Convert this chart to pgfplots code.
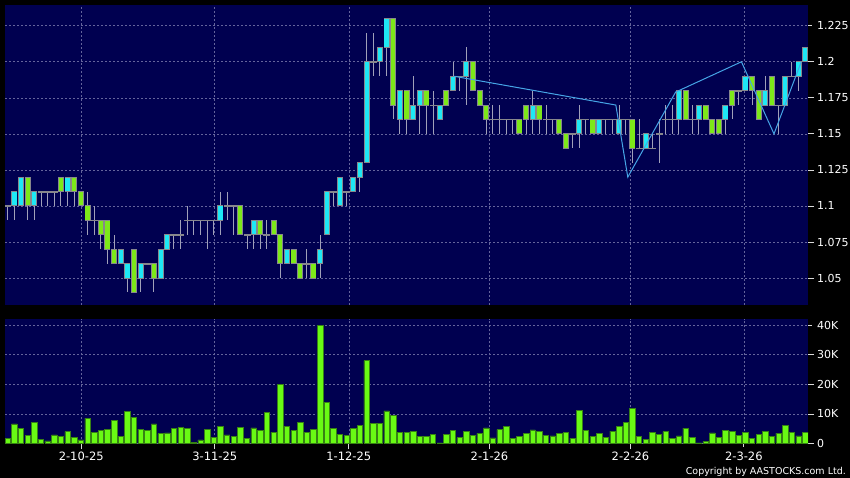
\documentclass[border=0pt]{standalone}
\usepackage{fontspec}
\setmainfont{DejaVu Sans}
\usepackage{pgfplots}
\usepackage{pgfplotstable}
\pgfplotsset{compat=1.18}

\definecolor{navy}{RGB}{0,0,80}
\definecolor{gridc}{RGB}{100,100,155}
\definecolor{wickc}{RGB}{160,160,185}
\definecolor{edgec}{RGB}{135,135,140}
\definecolor{upc}{RGB}{30,232,245}
\definecolor{dnc}{RGB}{125,232,25}
\definecolor{volc}{RGB}{105,250,20}
\definecolor{voledge}{RGB}{55,130,20}
\definecolor{zigc}{RGB}{70,165,230}

% candles: index, open, high, low, close
\pgfplotstableread{
i o h l c
1 1.10 1.11 1.09 1.11
2 1.10 1.12 1.10 1.12
4 1.10 1.11 1.09 1.11
9 1.11 1.12 1.10 1.12
17 1.06 1.07 1.06 1.07
18 1.05 1.06 1.04 1.06
20 1.05 1.06 1.04 1.06
23 1.05 1.07 1.05 1.07
24 1.07 1.08 1.07 1.08
32 1.09 1.11 1.08 1.10
37 1.08 1.09 1.07 1.09
42 1.06 1.07 1.06 1.07
47 1.06 1.08 1.05 1.07
48 1.08 1.11 1.08 1.11
50 1.10 1.12 1.10 1.12
52 1.11 1.12 1.11 1.12
53 1.12 1.13 1.11 1.13
54 1.13 1.22 1.13 1.20
56 1.20 1.21 1.19 1.21
57 1.21 1.23 1.19 1.23
59 1.16 1.18 1.15 1.18
61 1.16 1.19 1.16 1.17
62 1.17 1.18 1.15 1.18
65 1.16 1.17 1.16 1.17
67 1.18 1.20 1.18 1.19
69 1.19 1.21 1.17 1.20
79 1.16 1.18 1.15 1.17
86 1.15 1.17 1.14 1.16
89 1.15 1.16 1.15 1.16
92 1.15 1.17 1.15 1.16
96 1.14 1.15 1.14 1.15
101 1.16 1.18 1.15 1.18
104 1.16 1.17 1.15 1.17
108 1.16 1.17 1.15 1.17
111 1.18 1.19 1.18 1.19
114 1.17 1.19 1.17 1.18
117 1.17 1.19 1.17 1.19
119 1.19 1.20 1.18 1.20
120 1.20 1.21 1.20 1.21
}\up

\pgfplotstableread{
i o h l c
3 1.12 1.12 1.09 1.10
8 1.12 1.12 1.10 1.11
10 1.12 1.12 1.10 1.11
11 1.11 1.11 1.10 1.10
12 1.10 1.11 1.08 1.09
14 1.09 1.09 1.07 1.08
15 1.09 1.09 1.06 1.07
16 1.07 1.08 1.06 1.06
19 1.07 1.07 1.04 1.04
22 1.06 1.06 1.04 1.05
35 1.10 1.10 1.08 1.08
38 1.09 1.09 1.07 1.08
40 1.09 1.09 1.08 1.08
41 1.08 1.08 1.05 1.06
43 1.07 1.07 1.06 1.06
44 1.06 1.06 1.05 1.05
46 1.06 1.06 1.05 1.05
58 1.23 1.23 1.16 1.17
60 1.18 1.18 1.15 1.16
63 1.18 1.18 1.15 1.17
66 1.18 1.18 1.17 1.17
70 1.20 1.20 1.18 1.18
71 1.18 1.18 1.17 1.17
72 1.17 1.17 1.15 1.16
77 1.16 1.16 1.15 1.15
78 1.17 1.17 1.15 1.16
80 1.17 1.17 1.15 1.16
83 1.16 1.16 1.15 1.15
84 1.15 1.15 1.14 1.14
88 1.16 1.16 1.15 1.15
94 1.16 1.16 1.13 1.14
102 1.18 1.18 1.16 1.16
105 1.17 1.17 1.16 1.16
106 1.16 1.16 1.15 1.15
107 1.16 1.16 1.15 1.15
109 1.18 1.18 1.16 1.17
112 1.19 1.19 1.17 1.18
113 1.18 1.18 1.16 1.16
115 1.19 1.19 1.17 1.17
}\down

\pgfplotstableread{
i o h l c
0 1.10 1.10 1.09 1.10
5 1.11 1.11 1.10 1.11
6 1.11 1.11 1.10 1.11
7 1.11 1.11 1.10 1.11
13 1.09 1.10 1.08 1.09
21 1.06 1.06 1.06 1.06
25 1.08 1.08 1.07 1.08
26 1.08 1.09 1.07 1.08
27 1.09 1.10 1.08 1.09
28 1.09 1.09 1.08 1.09
29 1.09 1.09 1.08 1.09
30 1.09 1.09 1.07 1.09
31 1.09 1.09 1.08 1.09
33 1.10 1.11 1.09 1.10
34 1.10 1.10 1.08 1.10
36 1.08 1.08 1.07 1.08
39 1.08 1.09 1.07 1.08
45 1.06 1.07 1.05 1.06
49 1.11 1.11 1.10 1.11
51 1.11 1.11 1.10 1.11
55 1.20 1.22 1.19 1.20
64 1.17 1.18 1.15 1.17
68 1.19 1.19 1.18 1.19
73 1.16 1.17 1.15 1.16
74 1.16 1.17 1.15 1.16
75 1.16 1.16 1.15 1.16
76 1.16 1.16 1.15 1.16
81 1.16 1.17 1.15 1.16
82 1.16 1.16 1.15 1.16
85 1.15 1.15 1.14 1.15
87 1.16 1.16 1.15 1.16
90 1.16 1.16 1.15 1.16
91 1.16 1.16 1.15 1.16
93 1.16 1.16 1.15 1.16
95 1.14 1.16 1.14 1.14
97 1.14 1.15 1.14 1.14
98 1.15 1.16 1.13 1.15
99 1.16 1.17 1.15 1.16
100 1.16 1.17 1.15 1.16
103 1.16 1.17 1.15 1.16
110 1.18 1.18 1.17 1.18
116 1.17 1.17 1.15 1.17
118 1.19 1.20 1.19 1.19
}\doji

% volume in thousands
\pgfplotstableread{
i v
0 1.8
1 6.6
2 5.0
3 2.7
4 7.2
5 1.4
6 0.9
7 2.9
8 2.4
9 4.0
10 2.1
11 1.2
12 8.6
13 3.8
14 4.5
15 4.7
16 7.8
17 2.5
18 10.8
19 8.8
20 4.9
21 4.4
22 6.6
23 3.3
24 3.6
25 5.1
26 5.4
27 5.2
28 0.5
29 1.2
30 4.7
31 2.0
32 5.8
33 2.9
34 2.4
35 5.4
36 1.8
37 5.3
38 4.5
39 10.4
40 3.8
41 20.0
42 5.8
43 4.3
44 7.0
45 3.7
46 4.9
47 40.0
48 13.8
49 5.0
50 3.1
51 2.8
52 5.1
53 6.0
54 28.0
55 6.8
56 6.9
57 11.0
58 9.5
59 3.7
60 3.7
61 4.2
62 2.5
63 2.3
64 3.2
65 0.2
66 3.1
67 4.3
68 2.0
69 4.1
70 2.7
71 3.4
72 5.3
73 1.9
74 4.7
75 5.8
76 1.6
77 2.5
78 3.3
79 4.6
80 4.0
81 2.7
82 2.6
83 3.5
84 3.8
85 1.8
86 11.3
87 4.4
88 2.3
89 3.5
90 2.0
91 4.2
92 5.9
93 7.0
94 11.9
95 2.4
96 1.5
97 3.8
98 3.1
99 4.0
100 1.8
101 2.6
102 5.2
103 2.1
104 0.2
105 0.6
106 3.6
107 2.0
108 4.4
109 4.2
110 2.8
111 3.7
112 1.6
113 3.2
114 4.1
115 2.5
116 3.5
117 6.1
118 3.7
119 2.6
120 3.8
}\vol

\pgfplotsset{
  panel/.style={
    scale only axis, width=803pt, anchor=south west,
    xmin=-0.42, xmax=120.42,
    axis background/.style={fill=navy},
    axis line style={draw=none},
    xtick={11.05,31.15,51.32,72.49,93.71,110.76},
    grid=major,
    major grid style={draw=gridc, dash pattern=on 2pt off 2pt, line width=0.6pt},
    tick align=outside,
    ytick pos=right, yticklabel pos=right,
    ytick style={draw=white!85!black, line width=0.8pt, shorten <=2.5pt},
    major tick length=6pt,
    yticklabel style={text=white, font=\fontsize{11}{13}\selectfont, anchor=west, inner sep=0pt, xshift=3pt},
  },
  wick/.style={draw=none, mark=none, forget plot, error bars/.cd, y dir=both, y explicit, error mark=none,
    error bar style={draw=wickc, line width=1pt}},
  box/.style 2 args={draw=none, mark=none, forget plot, error bars/.cd, y dir=both, y explicit, error mark=none,
    error bar style={draw=#1, line width=#2}},
}

\begin{document}
\begin{tikzpicture}
\useasboundingbox (0,0) rectangle (850pt,478pt);
\fill[black] (0,0) rectangle (850pt,478pt);

% price panel
\begin{axis}[panel, at={(5pt,173pt)}, height=300pt,
  ymin=1.0313, ymax=1.2394,
  xticklabels={}, xtick style={draw=none},
  ytick={1.05,1.075,1.1,1.125,1.15,1.175,1.2,1.225},
  yticklabels={1.05,1.075,1.1,1.125,1.15,1.175,1.2,1.225},
]
\addplot[wick] table[x=i, y expr={(\thisrow{h}+\thisrow{l})/2}, y error expr={(\thisrow{h}-\thisrow{l})/2}] \up;
\addplot[wick] table[x=i, y expr={(\thisrow{h}+\thisrow{l})/2}, y error expr={(\thisrow{h}-\thisrow{l})/2}] \down;
\addplot[wick] table[x=i, y expr={(\thisrow{h}+\thisrow{l})/2}, y error expr={(\thisrow{h}-\thisrow{l})/2}] \doji;
\addplot[box={edgec}{7pt}] table[x=i, y=c, y error expr={0.00035}] \doji;
\addplot[box={edgec}{6pt}] table[x=i, y expr={(\thisrow{o}+\thisrow{c})/2}, y error expr={abs(\thisrow{o}-\thisrow{c})/2+0.00035}] \up;
\addplot[box={upc}{4.2pt}] table[x=i, y expr={(\thisrow{o}+\thisrow{c})/2}, y error expr={abs(\thisrow{o}-\thisrow{c})/2-0.00035}] \up;
\addplot[box={edgec}{6pt}] table[x=i, y expr={(\thisrow{o}+\thisrow{c})/2}, y error expr={abs(\thisrow{o}-\thisrow{c})/2+0.00035}] \down;
\addplot[box={dnc}{4.2pt}] table[x=i, y expr={(\thisrow{o}+\thisrow{c})/2}, y error expr={abs(\thisrow{o}-\thisrow{c})/2-0.00035}] \down;
% zigzag line
\addplot[draw=zigc, line width=1pt, mark=none] coordinates {
  (67.1,1.190) (91.5,1.170) (93.3,1.120) (100.5,1.179) (110.4,1.200) (115.3,1.150) (119.4,1.200)
};
\end{axis}

% volume panel
\begin{axis}[panel, at={(5pt,34.5pt)}, height=124.5pt,
  ymin=0, ymax=42.1,
  ytick={0,10,20,30,40},
  yticklabels={0,10K,20K,30K,40K},
  xticklabels={2-10-25,3-11-25,1-12-25,2-1-26,2-2-26,2-3-26},
  xtick pos=bottom,
  xtick style={draw=white!85!black, line width=0.8pt, shorten <=2.5pt},
  xticklabel style={text=white, font=\fontsize{11.5}{13}\selectfont, anchor=north, inner sep=0pt, yshift=-2pt},
]
\addplot[ybar, bar width=5.4pt, fill=volc, draw=voledge, line width=0.6pt] table[x=i, y=v] \vol;
\end{axis}

\node[anchor=base east, text=white, font=\fontsize{9.5}{11}\selectfont, inner sep=0pt] at (846pt,3pt) {Copyright by AASTOCKS.com Ltd.};
\end{tikzpicture}
\end{document}
